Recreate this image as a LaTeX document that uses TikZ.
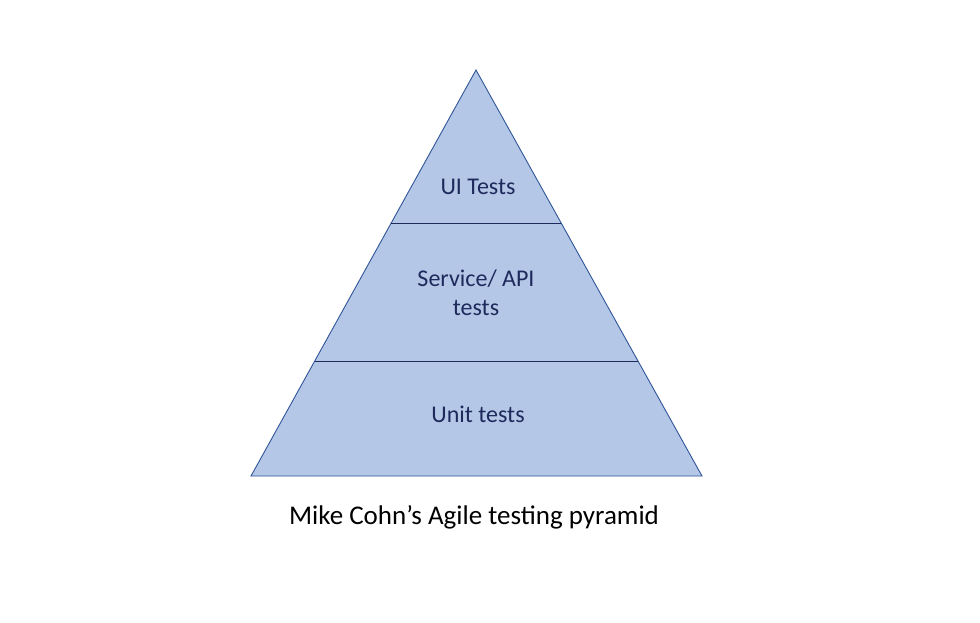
\documentclass[tikz,border=0pt]{standalone}
\usepackage{fontspec}
\setmainfont{Carlito}
\definecolor{pyrfill}{HTML}{B4C7E7}
\definecolor{pyredge}{HTML}{2F5597}
\definecolor{pyrtext}{HTML}{1F2A5C}
\begin{document}
\begin{tikzpicture}[x=1pt,y=-1pt,
  lvl/.style={text=pyrtext,font=\fontsize{24}{29}\selectfont,align=center,inner sep=0pt},
  captiontext/.style={text=black,font=\fontsize{27}{32}\selectfont,inner sep=0pt}]
\useasboundingbox (0,0) rectangle (980,622);
\coordinate (apex) at (476,70);
\coordinate (bl) at (251,476);
\coordinate (br) at (702,476);
\coordinate (d1l) at (391.2,223);
\coordinate (d1r) at (561.2,223);
\coordinate (d2l) at (314.7,361);
\coordinate (d2r) at (638,361);
\filldraw[fill=pyrfill,draw=pyredge,line width=0.9pt,line join=miter] (apex) -- (br) -- (bl) -- cycle;
\draw[pyrtext,line width=1pt] (d1l) -- (d1r);
\draw[pyrtext,line width=1pt] (d2l) -- (d2r);
\node[lvl] (ui) at (478,187) {UI Tests};
\node[lvl] (svc) at (476,293) {Service/ API\\tests};
\node[lvl] (unit) at (478,414) {Unit tests};
\node[captiontext] (title) at (474,517) {Mike Cohn’s Agile testing pyramid};
\end{tikzpicture}
\end{document}
